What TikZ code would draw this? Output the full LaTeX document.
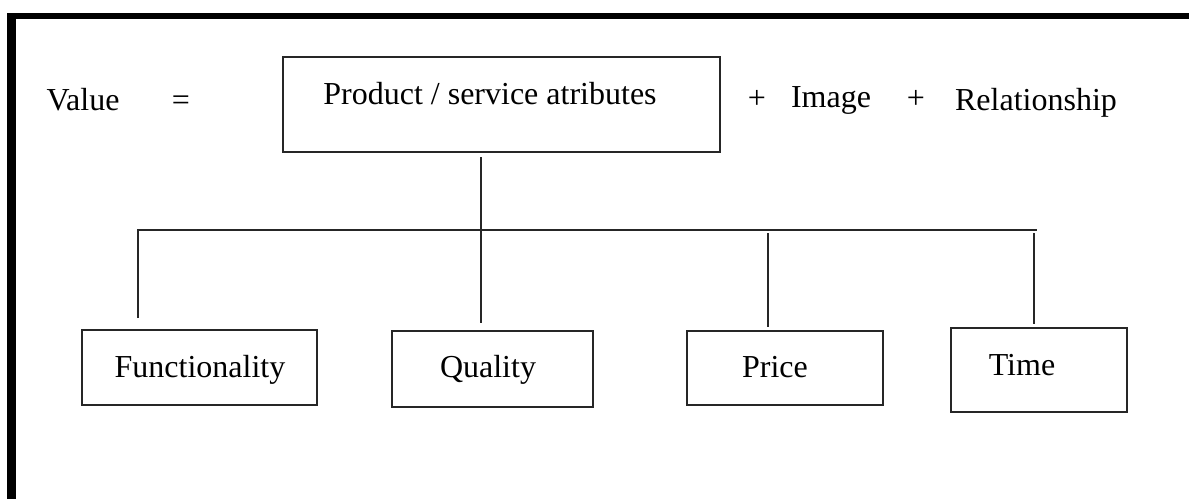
\documentclass[tikz,border=0pt]{standalone}
\usepackage{fontspec}
\setmainfont{Liberation Serif}
\tikzset{
  box/.style={draw=black!85, line width=1.8pt, rectangle, inner sep=0pt},
  link/.style={draw=black!85, line width=1.8pt},
  lbl/.style={anchor=base, inner sep=0pt, font=\fontsize{32}{38}\selectfont},
}
\begin{document}
\begin{tikzpicture}[x=1pt, y=-1pt]
\useasboundingbox (0,0) rectangle (1189,499);
% heavy frame, top and left
\fill[black] (7.3,12.7) rectangle (1189,19.3);
\fill[black] (7.3,12.7) rectangle (16,499);

% boxes
\node[box, minimum width=437pt, minimum height=95pt] (main) at (501.5,104.5) {};
\node[box, minimum width=235pt, minimum height=75pt] (fun) at (199.5,367.5) {};
\node[box, minimum width=201pt, minimum height=76pt] (qual) at (492.5,369) {};
\node[box, minimum width=196pt, minimum height=74pt] (price) at (785,368) {};
\node[box, minimum width=176pt, minimum height=84pt] (time) at (1039,370) {};

% labels
\node[lbl] (value) at (83,110) {Value};
\node[lbl] (eq) at (181,110) {=};
\node[lbl] (pst) at (490,104) {Product / service atributes};
\node[lbl] (plusa) at (757,108) {+};
\node[lbl] (image) at (831,107) {Image};
\node[lbl] (plusb) at (916,108) {+};
\node[lbl] (rel) at (1036,110) {Relationship};
\node[lbl] (tfun) at (200,377) {Functionality};
\node[lbl] (tqual) at (488,377) {Quality};
\node[lbl] (tprice) at (775,377) {Price};
\node[lbl] (ttime) at (1022,375) {Time};

% tree connectors
\coordinate (stem) at (481,157);
\coordinate (qtop) at (481,323);
\coordinate (barl) at (138,230);
\coordinate (barr) at (1037,230);
\coordinate (funtop) at (138,318);
\coordinate (ptop) at (768,233);
\coordinate (pend) at (768,327);
\coordinate (ttop) at (1034,233);
\coordinate (tend) at (1034,324);
\draw[link] (stem) -- (qtop);
\draw[link] (funtop) -- (barl) -- (barr);
\draw[link] (ptop) -- (pend);
\draw[link] (ttop) -- (tend);
\end{tikzpicture}
\end{document}
